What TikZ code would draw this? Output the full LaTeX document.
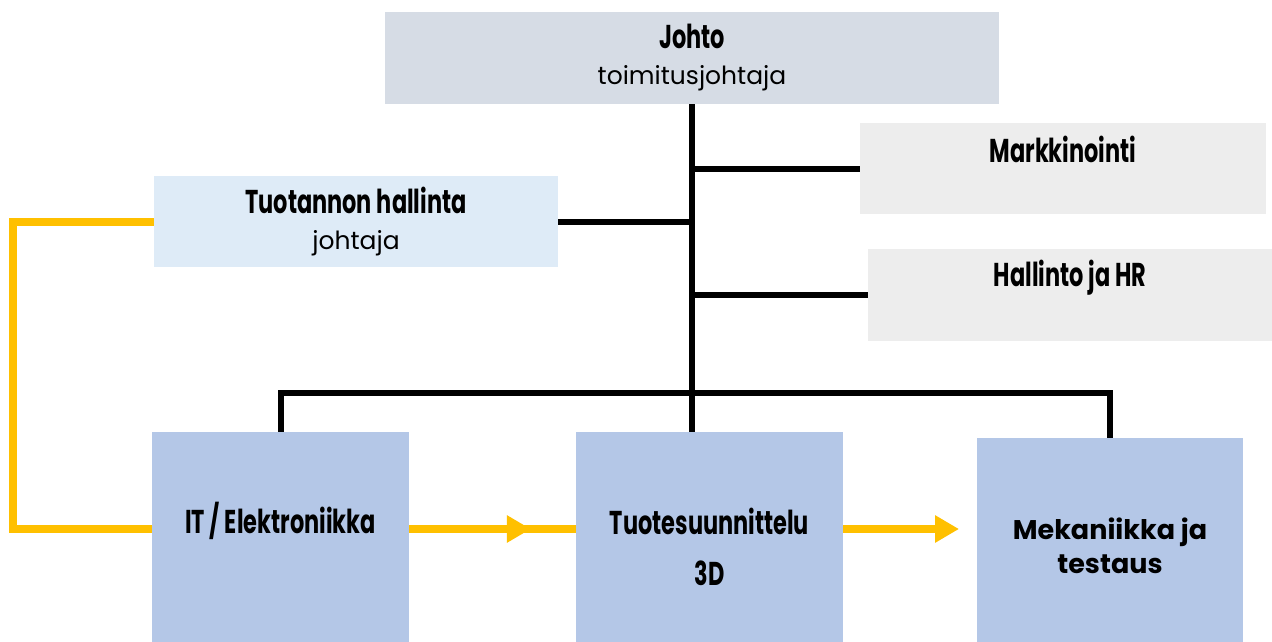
\documentclass[tikz,border=0pt]{standalone}
\usepackage{fontspec}
\setmainfont{Poppins}
\newfontfamily\narrowfont[FakeStretch=0.68]{Poppins}
\usetikzlibrary{arrows.meta, decorations.markings}
\definecolor{headgray}{HTML}{D6DCE5}
\definecolor{staffgray}{HTML}{EDEDED}
\definecolor{leadblue}{HTML}{DEEBF7}
\definecolor{teamblue}{HTML}{B4C7E7}
\definecolor{flowyellow}{HTML}{FFC000}
\newcommand{\boldname}[1]{{\narrowfont\bfseries\fontsize{33}{36}\selectfont #1}}

\begin{document}
\begin{tikzpicture}[x=1pt, y=-1pt,
			unit/.style={rectangle, inner sep=0pt, align=center, font=\fontsize{25}{36}\selectfont},
			head/.style={unit, fill=headgray},
			staff/.style={unit, fill=staffgray, text height=23pt},
			lead/.style={unit, fill=leadblue},
			team/.style={unit, fill=teamblue},
			link/.style={line width=6pt},
			feed/.style={line width=8pt, flowyellow},
			midarrow/.style={postaction={decorate}, decoration={markings, mark=at position #1 with {\arrow{Triangle[length=24pt,width=26pt]}}}},
			]
			\useasboundingbox (0,0) rectangle (1272,642);
			\clip (0,0) rectangle (1272,642);
			%Nodes
				\node[head, minimum width=614pt, minimum height=92pt]	(johto)		at (692,58)		{\boldname{Johto}\\toimitusjohtaja};
				\node[staff, minimum width=406pt, minimum height=91pt, text depth=35pt]	(markkinointi)	at (1063,168.5)	{\boldname{Markkinointi}};
				\node[staff, minimum width=404pt, minimum height=92pt, text depth=40pt]	(hallinto)	at (1070,295)	{\boldname{Hallinto ja HR}};
				\node[lead, minimum width=404pt, minimum height=91pt]	(tuotanto)	at (356,221.5)	{\boldname{Tuotannon hallinta}\\johtaja};
				\node[team, minimum width=257pt, minimum height=230pt, text height=23pt, text depth=50pt]	(it)	at (280.5,547)	{\boldname{IT / Elektroniikka}};
				\node[team, minimum width=267pt, minimum height=229pt]	(suunnittelu)	at (709.5,546.5)	{\boldname{Tuotesuunnittelu}\\[15pt]\boldname{3D}};
				\node[team, minimum width=266pt, minimum height=216pt, font=\bfseries\fontsize{27}{34}\selectfont]	(mekaniikka)	at (1110,546)	{Mekaniikka ja\\testaus};

				\coordinate (bus)		at (694,393);
				\coordinate (feedrow)	at (13,529);
				\coordinate (arrowtip)	at (959,529);

			%Lines
				\draw[link] (johto.south) -- (johto.south |- suunnittelu.north);
				\draw[link] (markkinointi.west) -- (markkinointi.west -| johto.south);
				\draw[link] (hallinto.west) -- (hallinto.west -| johto.south);
				\draw[link] (tuotanto.east) -- (tuotanto.east -| johto.south);
				\draw[link] (it.north) |- (bus) -| (mekaniikka.north);

				\draw[feed] (tuotanto.west) -| (feedrow) -- (feedrow -| it.west);
				\draw[feed, midarrow=0.73] (feedrow -| it.east) -- (feedrow -| suunnittelu.west);
				\draw[feed, -{Triangle[length=24pt,width=26pt]}] (feedrow -| suunnittelu.east) -- (arrowtip);
		\end{tikzpicture}
\end{document}
